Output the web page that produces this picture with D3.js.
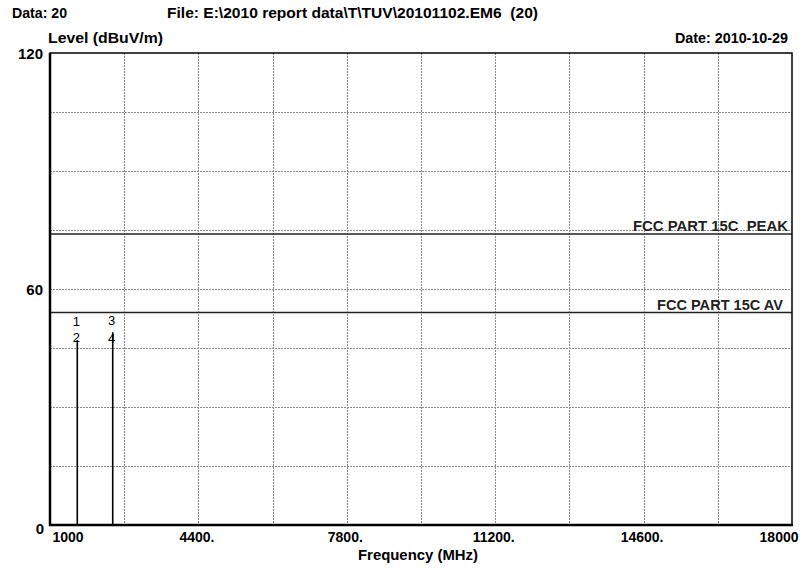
<!DOCTYPE html>
<html>
<head>
<meta charset="utf-8">
<script src="https://cdn.jsdelivr.net/npm/d3@7"></script>
<style>
  html, body { margin: 0; padding: 0; background: #fff; }
  svg text { font-family: "Liberation Sans", Arial, sans-serif; }
</style>
</head>
<body>
<svg id="chart" width="805" height="569"></svg>
<script>
// ---- data ----
const headerData = "Data: 20";
const headerFile = "File: E:\\2010 report data\\T\\TUV\\20101102.EM6  (20)";
const headerDate = "Date: 2010-10-29";
const yTitle = "Level (dBuV/m)";
const xTitle = "Frequency (MHz)";

const xDomain = [1000, 18000];
const yDomain = [0, 120];
const xTickValues = [1000, 4400, 7800, 11200, 14600, 18000];
const xTickLabels = ["1000", "4400.", "7800.", "11200.", "14600.", "18000"];
const yTickValues = [0, 60, 120];
const yTickLabels = ["0", "60", "120"];
const xGridValues = [2700, 4400, 6100, 7800, 9500, 11200, 12900, 14600, 16300];
const yGridValues = [15, 30, 45, 60, 75, 90, 105];

const limitNames = ["FCC PART 15C  PEAK", "FCC PART 15C AV"];
const limitLevels = [74, 54];

const traceFreqs = [1625, 2437];
const traceLevels = [47.0, 49.0];

const markerLabels = ["1", "2", "3", "4"];
const markerFreqs = [1625, 1625, 2437, 2437];
const markerLevels = [50.6, 46.5, 50.9, 46.3];

// ---- layout ----
const svg = d3.select("#chart");
const pL = 50, pR = 792, pT = 53, pB = 525;
const x = d3.scaleLinear().domain(xDomain).range([pL, pR]);
const y = d3.scaleLinear().domain(yDomain).range([pB, pT]);

// grid
const grid = svg.append("g").attr("stroke", "#8a8a8a").attr("stroke-width", 1)
  .attr("stroke-dasharray", "2,1");
grid.selectAll("line.h").data(yGridValues).join("line").attr("class", "h")
  .attr("x1", pL).attr("x2", pR)
  .attr("y1", d => Math.round(y(d)) + 0.5).attr("y2", d => Math.round(y(d)) + 0.5);
grid.selectAll("line.v").data(xGridValues).join("line").attr("class", "v")
  .attr("y1", pT).attr("y2", pB)
  .attr("x1", d => Math.round(x(d)) + 0.5).attr("x2", d => Math.round(x(d)) + 0.5);

// limit lines
svg.append("g").selectAll("line").data(limitLevels).join("line")
  .attr("x1", pL).attr("x2", pR)
  .attr("y1", d => y(d)).attr("y2", d => y(d))
  .attr("stroke", "#222").attr("stroke-width", 1.5);
const limitRight = [pR - 4, pR - 9];
const limitWidth = [155, 126];
svg.append("g").selectAll("text").data(limitNames).join("text")
  .attr("x", (d, i) => limitRight[i] - limitWidth[i])
  .attr("y", (d, i) => y(limitLevels[i]) - 3)
  .attr("textLength", (d, i) => limitWidth[i]).attr("lengthAdjust", "spacingAndGlyphs")
  .attr("font-size", 14).attr("font-weight", "bold")
  .attr("fill", "#222").style("white-space", "pre")
  .text(d => d);

// trace spikes
svg.append("g").selectAll("line").data(traceFreqs).join("line")
  .attr("x1", d => x(d)).attr("x2", d => x(d))
  .attr("y1", y(0)).attr("y2", (d, i) => y(traceLevels[i]))
  .attr("stroke", "#000").attr("stroke-width", 1.6);

// markers
svg.append("g").selectAll("text").data(markerLabels).join("text")
  .attr("x", (d, i) => x(markerFreqs[i]) - 1)
  .attr("y", (d, i) => y(markerLevels[i]))
  .attr("text-anchor", "middle").attr("font-size", 13)
  .attr("fill", "#000")
  .text(d => d);

// frame
svg.append("rect").attr("x", pL).attr("y", pT)
  .attr("width", pR - pL).attr("height", pB - pT)
  .attr("fill", "none").attr("stroke", "#000").attr("stroke-width", 1.5);
svg.append("line").attr("x1", pL).attr("x2", pL).attr("y1", pT).attr("y2", pB + 1)
  .attr("stroke", "#000").attr("stroke-width", 2.5);
svg.append("line").attr("x1", pL - 1).attr("x2", pR + 1).attr("y1", pB).attr("y2", pB)
  .attr("stroke", "#000").attr("stroke-width", 2.5);

// axes (labels only)
const xAxis = d3.axisBottom(x).tickValues(xTickValues)
  .tickFormat((d, i) => xTickLabels[i]).tickSize(0).tickPadding(0);
const gx = svg.append("g").attr("transform", `translate(0,${pB})`).call(xAxis);
gx.select(".domain").remove();
gx.selectAll("text")
  .attr("font-family", "Liberation Sans, Arial, sans-serif")
  .attr("font-size", 14).attr("font-weight", "bold").attr("fill", "#000")
  .attr("dy", null).attr("y", 17)
  .attr("text-anchor", (d, i) => i === 0 ? "start" : (i === xTickValues.length - 1 ? "end" : "middle"))
  .attr("dx", (d, i) => i === 0 ? 2 : (i === xTickValues.length - 1 ? 6 : -2));

const yAxis = d3.axisLeft(y).tickValues(yTickValues)
  .tickFormat((d, i) => yTickLabels[i]).tickSize(0).tickPadding(0);
const gy = svg.append("g").attr("transform", `translate(${pL},0)`).call(yAxis);
gy.select(".domain").remove();
gy.selectAll("text")
  .attr("font-family", "Liberation Sans, Arial, sans-serif")
  .attr("font-size", 15).attr("font-weight", "bold").attr("fill", "#000")
  .attr("x", -7).attr("dy", "0.35em");
gy.selectAll("text").filter(d => d === 0).attr("dy", "0.55em").attr("x", -6);

// titles
function title(txt, x0, y0, w, size) {
  return svg.append("text").attr("x", x0).attr("y", y0)
    .attr("font-size", size).attr("font-weight", "bold")
    .attr("textLength", w).attr("lengthAdjust", "spacingAndGlyphs")
    .style("white-space", "pre").text(txt);
}
title(headerData, 12, 18, 55, 14);
title(headerFile, 167, 18, 371, 14);
title(yTitle, 48, 43, 115, 14);
title(headerDate, 675, 43, 113, 14);
title(xTitle, 358, 560, 120, 14);
</script>
</body>
</html>
